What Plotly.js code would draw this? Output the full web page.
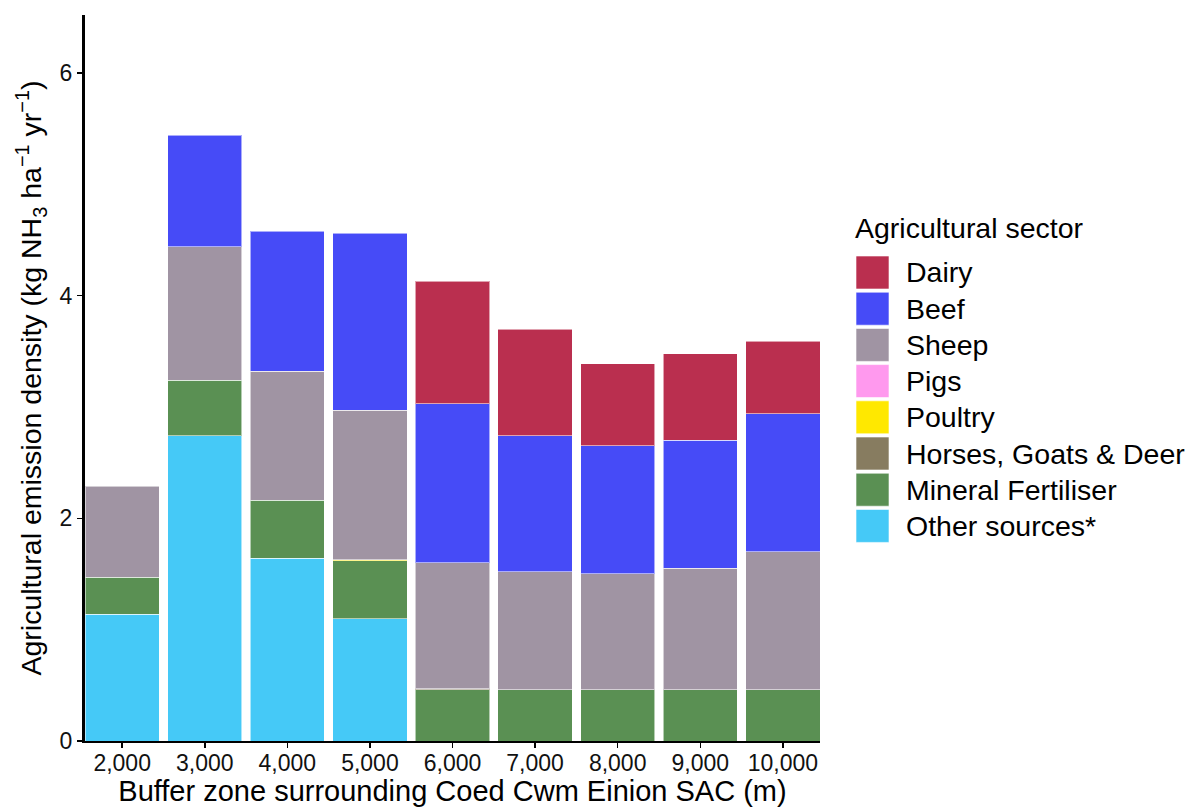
<!DOCTYPE html>
<html>
<head>
<meta charset="utf-8">
<script src="https://cdn.plot.ly/plotly-3.0.1.min.js"></script>
<style>
  html, body { margin: 0; padding: 0; background: #fff; }
  #chart { width: 1191px; height: 807px; }
</style>
</head>
<body>
<div id="chart"></div>
<script>
// Buffer zone distances (m)
const zones = ["2,000", "3,000", "4,000", "5,000", "6,000", "7,000", "8,000", "9,000", "10,000"];

// Emission density by sector (kg NH3 / ha / yr)
const dairy    = [0, 0, 0, 0, 1.10, 0.96, 0.74, 0.78, 0.65];
const beef     = [0, 1.00, 1.26, 1.59, 1.43, 1.22, 1.15, 1.15, 1.24];
const sheep    = [0.82, 1.20, 1.16, 1.34, 1.13, 1.06, 1.04, 1.09, 1.24];
const pigs     = [0, 0, 0, 0, 0, 0, 0, 0, 0];
const poultry  = [0, 0, 0, 0.01, 0, 0, 0, 0, 0];
const horses   = [0, 0, 0, 0, 0.01, 0, 0, 0, 0];
const mineral  = [0.33, 0.50, 0.52, 0.52, 0.46, 0.46, 0.46, 0.46, 0.46];
const other    = [1.14, 2.74, 1.64, 1.10, 0, 0, 0, 0, 0];

// Legend order (top to bottom) with colours
const sectors = ["Dairy", "Beef", "Sheep", "Pigs", "Poultry", "Horses, Goats & Deer", "Mineral Fertiliser", "Other sources*"];
const colours = ["#BA2F4F", "#464BF7", "#A094A3", "#FF99EE", "#FFE800", "#877C60", "#5A9053", "#45C9F7"];
const values  = [dairy, beef, sheep, pigs, poultry, horses, mineral, other];

const FONT = "Liberation Sans, Arial, sans-serif";

// Stack from the bottom up: last legend entry is drawn first
const traces = [];
for (let i = sectors.length - 1; i >= 0; i--) {
  traces.push({
    type: "bar",
    name: sectors[i],
    x: zones,
    y: values[i].map(v => (v === 0 ? null : v)),
    width: 0.9,
    marker: { color: colours[i], line: { color: "rgba(255,255,255,0.55)", width: 1 } },
    showlegend: false,
    hoverinfo: "name+y"
  });
}

// Plot area in pixels
const W = 1191, H = 807;
const M = { l: 85, r: 371, t: 15, b: 66 };
const plotW = W - M.l - M.r, plotH = H - M.t - M.b;
const px = x => (x - M.l) / plotW;
const py = y => (H - M.b - y) / plotH;

// Custom legend with large square keys
const shapes = [];
const annotations = [];
const legX0 = 856, legX1 = 889, legTop = 256, step = 36.2, box = 33;
annotations.push({
  xref: "paper", yref: "paper", x: px(853), y: py(228),
  xanchor: "left", yanchor: "middle", showarrow: false,
  text: "Agricultural sector", font: { family: FONT, size: 28.5, color: "#000" }
});
sectors.forEach((s, i) => {
  const y0 = legTop + i * step;
  shapes.push({
    type: "rect", xref: "paper", yref: "paper",
    x0: px(legX0), x1: px(legX1), y0: py(y0), y1: py(y0 + box),
    fillcolor: colours[i], line: { color: "rgba(255,255,255,0.6)", width: 1 }
  });
  annotations.push({
    xref: "paper", yref: "paper", x: px(904), y: py(y0 + box / 2),
    xanchor: "left", yanchor: "middle", showarrow: false,
    text: s, font: { family: FONT, size: 28.5, color: "#000" }
  });
});

const layout = {
  width: W, height: H,
  margin: { l: M.l, r: M.r, t: M.t, b: M.b, pad: 0 },
  paper_bgcolor: "#fff", plot_bgcolor: "#fff",
  barmode: "stack",
  showlegend: false,
  font: { family: FONT, color: "#000" },
  xaxis: {
    type: "category",
    range: [-0.45, 8.45],
    showgrid: false, zeroline: false,
    showline: true, linecolor: "#000", linewidth: 2,
    ticks: "outside", ticklen: 5, tickwidth: 1.5, tickcolor: "#000",
    ticklabelstandoff: -5,
    tickfont: { family: FONT, size: 23, color: "#111" },
    title: { text: "Buffer zone surrounding Coed Cwm Einion SAC (m)", font: { family: FONT, size: 29, color: "#000" }, standoff: 0 }
  },
  yaxis: {
    range: [0, 6.52],
    tickvals: [0, 2, 4, 6],
    ticktext: ["0", "2", "4", "6"],
    showgrid: false, zeroline: false,
    showline: true, linecolor: "#000", linewidth: 3,
    ticks: "outside", ticklen: 5, tickwidth: 1.5, tickcolor: "#000",
    tickfont: { family: FONT, size: 23, color: "#111" },
    title: { text: "Agricultural emission density (kg NH<sub>3</sub> ha<sup>−1</sup> yr<sup>−1</sup>)", font: { family: FONT, size: 28.5, color: "#000" }, standoff: 10 }
  },
  shapes: shapes,
  annotations: annotations
};

Plotly.newPlot("chart", traces, layout, { displayModeBar: false, staticPlot: true });
</script>
</body>
</html>
